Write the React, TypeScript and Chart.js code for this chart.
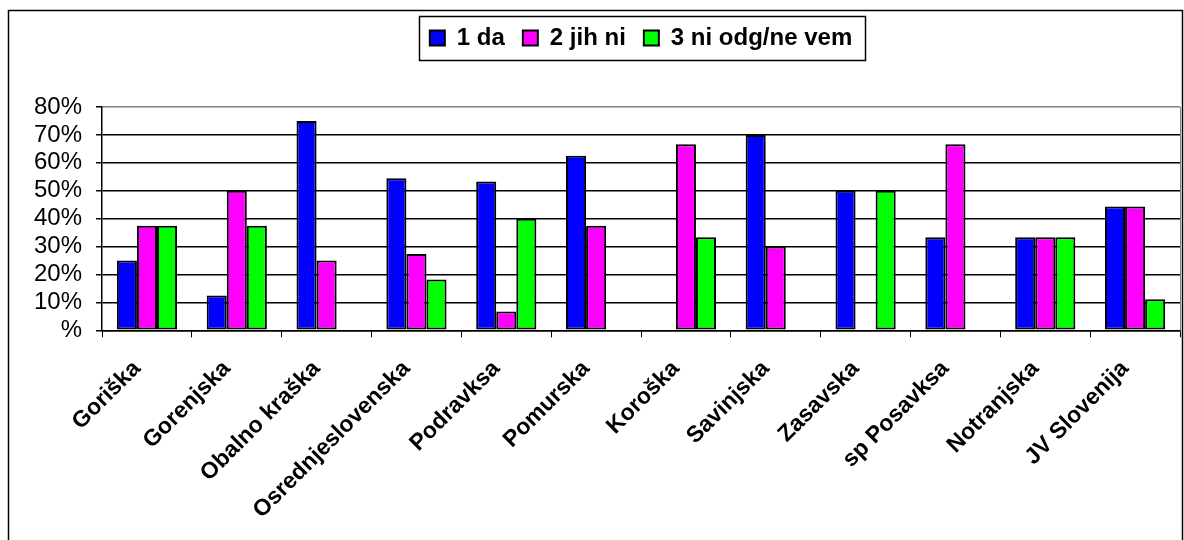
import React, { useEffect, useRef } from "react";
import { Chart, registerables } from "chart.js";

Chart.register(...registerables);

const categories = [
  "Goriška",
  "Gorenjska",
  "Obalno kraška",
  "Osrednjeslovenska",
  "Podravksa",
  "Pomurska",
  "Koroška",
  "Savinjska",
  "Zasavska",
  "sp Posavksa",
  "Notranjska",
  "JV Slovenija",
];

const seriesNames = ["1 da", "2 jih ni", "3 ni odg/ne vem"];
const daValues = [25, 12.5, 75, 54.5, 53.3, 62.5, 0, 70, 50, 33.3, 33.3, 44.4];
const jihNiValues = [37.5, 50, 25, 27.3, 6.7, 37.5, 66.7, 30, 0, 66.7, 33.3, 44.4];
const niOdgValues = [37.5, 37.5, 0, 18.2, 40, 0, 33.3, 0, 50, 0, 33.3, 11.1];
const seriesColors = ["#0000FF", "#FF00FF", "#00FF00"];
const yTicks = [0, 10, 20, 30, 40, 50, 60, 70, 80];

const FONT = "'Liberation Sans', Arial, sans-serif";

const framePlugin = {
  id: "frame",
  beforeDraw(chart: any) {
    const ctx = chart.ctx;
    ctx.save();
    ctx.fillStyle = "#ffffff";
    ctx.fillRect(0, 0, chart.width, chart.height);
    ctx.strokeStyle = "#000000";
    ctx.lineWidth = 1.5;
    ctx.strokeRect(8.5, 10.5, 1174, 600);
    ctx.restore();
  },
  afterDraw(chart: any) {
    const ctx = chart.ctx;
    const ca = chart.chartArea;
    ctx.save();
    // plot area right border (gray)
    ctx.strokeStyle = "#808080";
    ctx.lineWidth = 1;
    ctx.beginPath();
    ctx.moveTo(Math.round(ca.right) + 0.5, ca.top);
    ctx.lineTo(Math.round(ca.right) + 0.5, ca.bottom);
    ctx.stroke();
    // legend frame
    const boxes = chart.legend && chart.legend.legendHitBoxes;
    if (boxes && boxes.length) {
      let minX = Infinity, maxX = -Infinity, minY = Infinity, maxY = -Infinity;
      boxes.forEach((b: any) => {
        minX = Math.min(minX, b.left);
        maxX = Math.max(maxX, b.left + b.width);
        minY = Math.min(minY, b.top);
        maxY = Math.max(maxY, b.top + b.height);
      });
      const cy = (minY + maxY) / 2;
      ctx.strokeStyle = "#000000";
      ctx.lineWidth = 1.5;
      ctx.strokeRect(Math.round(minX - 11) + 0.5, Math.round(cy - 22) + 0.5, Math.round(maxX - minX + 24), 44);
    }
    ctx.restore();
  },
};

export default function App() {
  const ref = useRef<HTMLCanvasElement | null>(null);

  useEffect(() => {
    document.body.style.margin = "0";
    document.body.style.overflow = "hidden";
    const canvas = ref.current;
    if (!canvas) return;
    const values = [daValues, jihNiValues, niOdgValues];
    const chart = new Chart(canvas, {
      type: "bar",
      data: {
        labels: categories,
        datasets: seriesNames.map((name, i) => ({
          label: name,
          data: values[i],
          backgroundColor: seriesColors[i],
          borderColor: "#000000",
          borderWidth: 2,
          borderSkipped: false,
          categoryPercentage: 0.67,
          barPercentage: 1.0,
        })),
      },
      options: {
        responsive: false,
        animation: false,
        devicePixelRatio: 1,
        layout: { padding: { left: 20, right: 4, top: 8, bottom: -2 } },
        plugins: {
          legend: {
            position: "top",
            fullSize: false,
            labels: {
              boxWidth: 15,
              boxHeight: 15,
              padding: 18,
              color: "#000000",
              font: { family: FONT, size: 24, weight: "bold" },
            },
          },
          title: {
            display: true,
            text: "",
            fullSize: false,
            weight: 500,
            font: { size: 12, lineHeight: 1 },
            padding: { top: 17, bottom: 18 },
          },
          tooltip: { enabled: false },
        },
        scales: {
          x: {
            grid: {
              offset: true,
              drawOnChartArea: false,
              drawTicks: true,
              tickLength: 7,
              color: "#000000",
            },
            border: { color: "#000000", width: 1.5 },
            ticks: {
              autoSkip: false,
              minRotation: 45,
              maxRotation: 45,
              padding: 18,
              labelOffset: -10,
              color: "#000000",
              font: { family: FONT, size: 23, weight: "bold" },
            },
          },
          y: {
            min: 0,
            max: 80,
            afterBuildTicks: (axis: any) => {
              axis.ticks = yTicks.map((v) => ({ value: v }));
            },
            grid: {
              color: (c: any) => (c.tick && c.tick.value === 80 ? "#808080" : "#000000"),
              lineWidth: 1.5,
              tickLength: 6,
              tickColor: "#000000",
            },
            border: { color: "#000000", width: 1.5 },
            ticks: {
              autoSkip: false,
              padding: 14,
              color: "#000000",
              font: { family: FONT, size: 24 },
              callback: (v: any) => (Number(v) === 0 ? "%" : v + "%"),
            },
          },
        },
      },
      plugins: [framePlugin],
    });
    return () => chart.destroy();
  }, []);

  return (
    <div style={{ width: 1184, height: 540 }}>
      <canvas ref={ref} width={1184} height={540} style={{ display: "block" }} />
    </div>
  );
}
